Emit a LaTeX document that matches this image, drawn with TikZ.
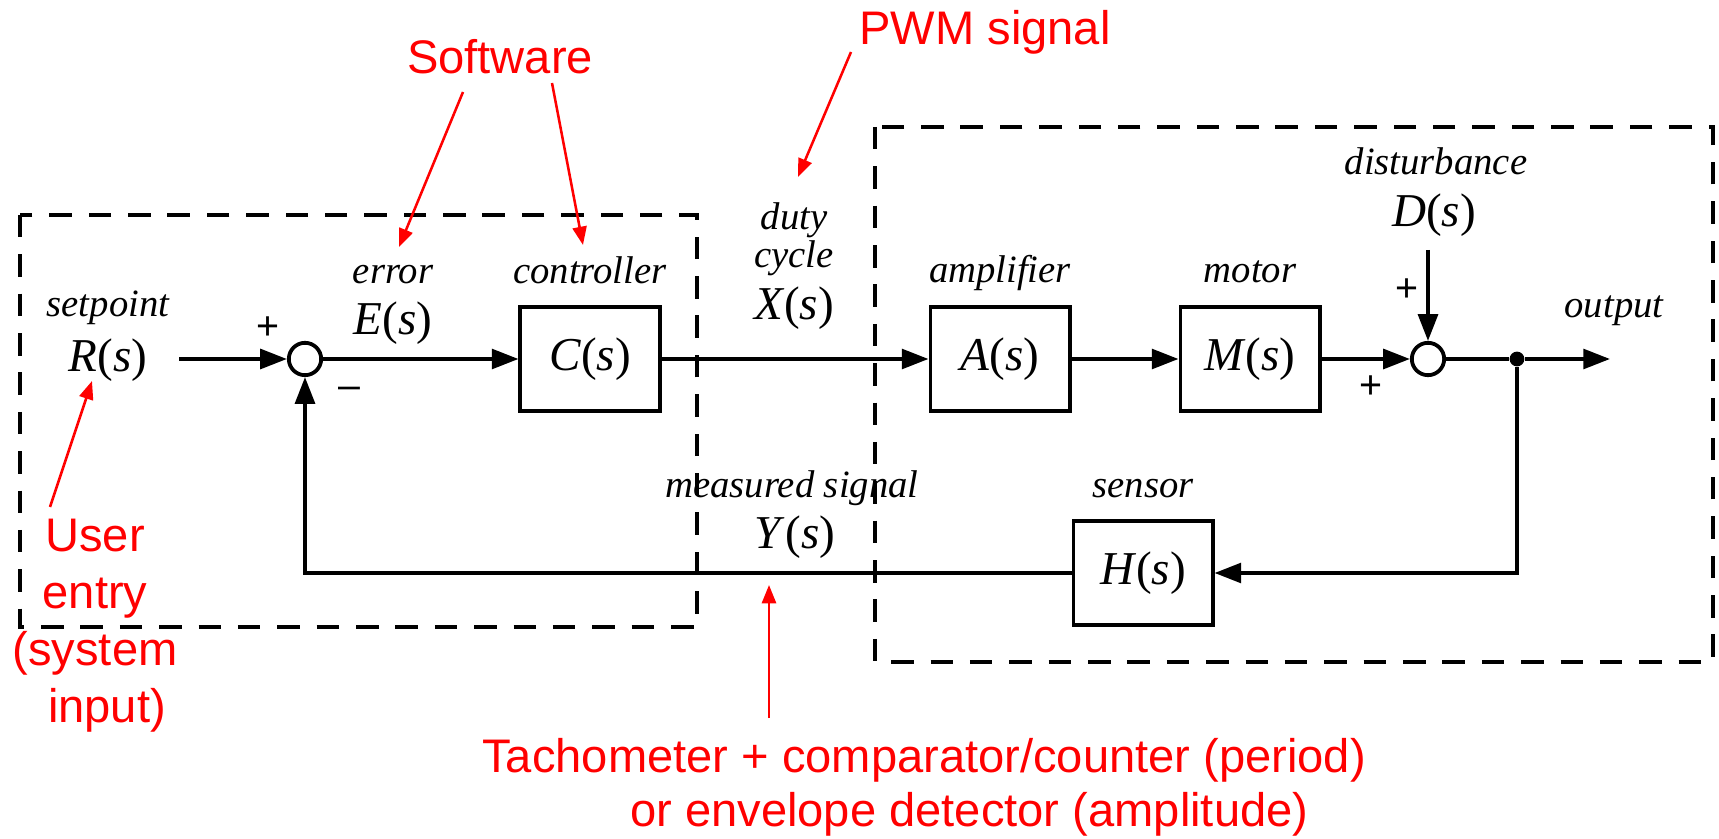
\documentclass[tikz,border=0pt]{standalone}
\usepackage{fontspec}
\setmainfont{Liberation Serif}
\newfontfamily\noteFont{Liberation Sans}
\usetikzlibrary{arrows.meta,positioning}
\definecolor{noteRed}{HTML}{FF0000}
\tikzset{
  blockBox/.style={
    draw,
    line width=2.7pt,
    minimum width=99pt,
    minimum height=74.5pt,
    inner sep=0pt,
    font=\fontsize{33.5}{36}\selectfont
  },
  sumNode/.style={draw, circle, line width=2.7pt, minimum size=23pt, inner sep=0pt},
  tapDot/.style={circle, fill, minimum size=10.5pt, inner sep=0pt},
  sigLine/.style={line width=2.7pt},
  sigArrow/.style={sigLine, -{Triangle[length=19pt,width=14pt]}},
  dashFrame/.style={line width=3pt, dash pattern=on 16pt off 12pt},
  wordLabel/.style={anchor=base, inner sep=0pt, font=\fontsize{27.5}{30}\selectfont\itshape},
  varLabel/.style={anchor=base, inner sep=0pt, font=\fontsize{33.5}{36}\selectfont},
  signLabel/.style={inner sep=0pt, font=\noteFont\fontsize{28}{30}\selectfont},
  noteText/.style={
    text=noteRed,
    inner sep=0pt,
    font=\noteFont\fontsize{33.5}{40.5}\selectfont
  },
  noteArrow/.style={noteRed, line width=1.8pt, -{Triangle[length=13pt,width=10pt]}}
}
\newcommand{\tfun}[1]{\textit{#1}(\textit{s})}

\begin{document}
\begin{tikzpicture}[x=0.025cm,y=-0.025cm]
  \useasboundingbox (0,0) rectangle (1719,839);

  % software and plant groupings
  \draw[dashFrame] (20,215) rectangle (697,627);
  \draw[dashFrame] (875,127) rectangle (1713,662);

  % blocks
  \node[sumNode] (sumE) at (305,359) {};
  \node[blockBox] (ctrl) at (590,359) {\tfun{C}};
  \node[blockBox] (amp) at (1000,359) {\tfun{A}};
  \node[blockBox] (mot) at (1250,359) {\tfun{M}};
  \node[sumNode] (sumD) at (1428,359) {};
  \node[tapDot] (tap) at (1517,359) {};
  \node[blockBox] (sens) at (1143,573) {\tfun{H}};

  % signal names
  \node[wordLabel] (spLbl) at (108,317) {setpoint};
  \node[varLabel] (rLbl) at (108,372) {\tfun{R}};
  \node[wordLabel] (errLbl) at (393,284) {error};
  \node[varLabel] (eLbl) at (393,335) {\tfun{E}};
  \node[wordLabel] (ctrlLbl) at (590,284) {controller};
  \node[wordLabel] (dutyLbl) at (794,230) {duty};
  \node[wordLabel] (cycLbl) at (794,268) {cycle};
  \node[varLabel] (xLbl) at (794,320) {\tfun{X}};
  \node[wordLabel] (ampLbl) at (1000,283) {amplifier};
  \node[wordLabel] (motLbl) at (1250,283) {motor};
  \node[wordLabel] (distLbl) at (1436,175) {disturbance};
  \node[varLabel] (dLbl) at (1434,227) {\tfun{D}};
  \node[wordLabel] (outLbl) at (1614,318) {output};
  \node[wordLabel] (measLbl) at (792,498) {measured signal};
  \node[varLabel] (yLbl) at (795,548) {\tfun{Y}};
  \node[wordLabel] (sensLbl) at (1143,498) {sensor};

  % signs at the junctions
  \node[signLabel] (plusR) at (268,328) {+};
  \node[signLabel] (minusY) at (349,393) {\textendash};
  \node[signLabel] (plusD) at (1407,290) {+};
  \node[signLabel] (plusM) at (1371,387) {+};

  % connectors
  \coordinate (rIn) at (179,359);
  \coordinate (dIn) at (1428,250);
  \coordinate (yOut) at (1610,359);
  \draw[sigArrow] (rIn) -- (sumE);
  \draw[sigArrow] (sumE) -- (ctrl);
  \draw[sigArrow] (ctrl) -- (amp);
  \draw[sigArrow] (amp) -- (mot);
  \draw[sigArrow] (mot) -- (sumD);
  \draw[sigArrow] (dIn) -- (sumD);
  \draw[sigLine] (sumD) -- (tap);
  \draw[sigArrow] (tap) -- (yOut);
  \draw[sigArrow] (tap) |- (sens);
  \draw[sigArrow] (sens) -| (sumE);

  % red notes
  \node[noteText, anchor=base] (softNote) at (500,74) {Software};
  \node[noteText, anchor=base] (pwmNote) at (985,45) {PWM signal};
  \node[noteText, align=center, anchor=north] (userNote) at (95,519)
    {User\\entry\\(system\\\hspace*{17pt}input)};
  \node[noteText, anchor=base west] (tachNote) at (482,772)
    {Tachometer + comparator/counter (period)};
  \node[noteText, anchor=base west] (envNote) at (630,826)
    {or envelope detector (amplitude)};

  \coordinate (softFootA) at (463,92);
  \coordinate (softTipA) at (399,247);
  \coordinate (softFootB) at (552,83);
  \coordinate (softTipB) at (583,245);
  \coordinate (pwmFoot) at (851,52);
  \coordinate (pwmTip) at (798,177);
  \coordinate (userFoot) at (50,507);
  \coordinate (userTip) at (92,381);
  \coordinate (tachFoot) at (769,718);
  \coordinate (tachTip) at (769,585);
  \draw[noteArrow] (softFootA) -- (softTipA);
  \draw[noteArrow] (softFootB) -- (softTipB);
  \draw[noteArrow] (pwmFoot) -- (pwmTip);
  \draw[noteArrow] (userFoot) -- (userTip);
  \draw[noteArrow] (tachFoot) -- (tachTip);
\end{tikzpicture}
\end{document}
